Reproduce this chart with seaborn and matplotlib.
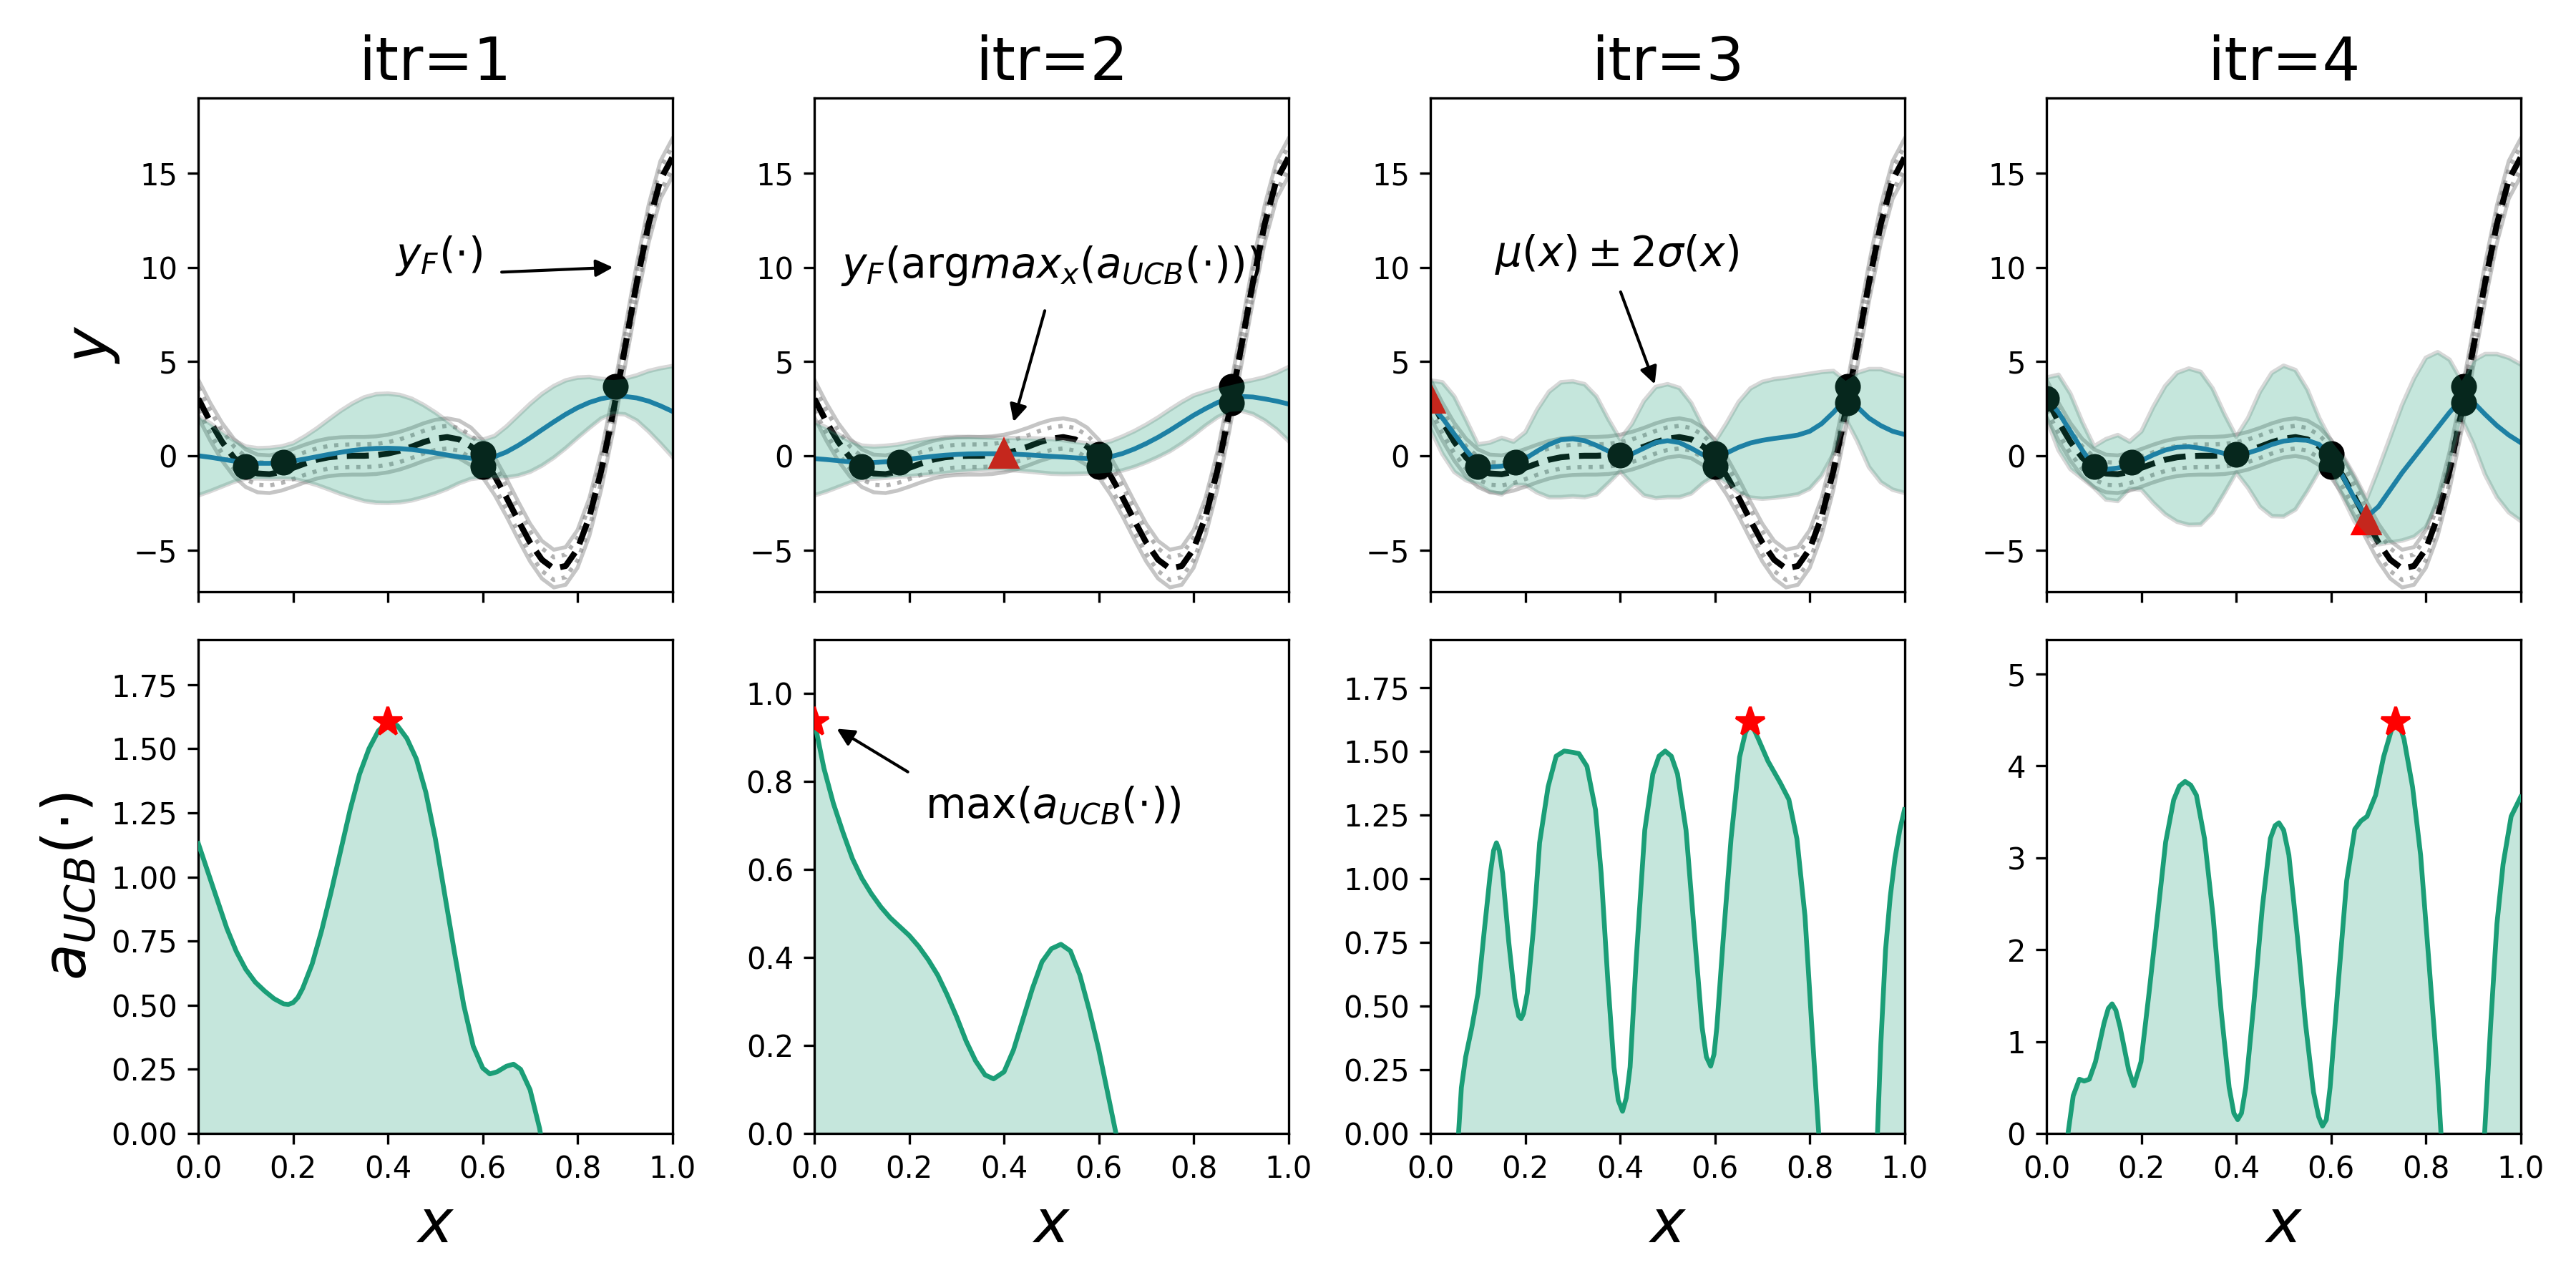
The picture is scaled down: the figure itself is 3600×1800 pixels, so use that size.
import matplotlib
matplotlib.use("Agg")
import matplotlib.pyplot as plt
import seaborn as sns
import numpy as np

# -------------------------
# Data
# -------------------------
x_grid = [0.0, 0.025, 0.05, 0.075, 0.1, 0.125, 0.15, 0.175, 0.2, 0.225,
          0.25, 0.275, 0.3, 0.325, 0.35, 0.375, 0.4, 0.425, 0.45, 0.475,
          0.5, 0.525, 0.55, 0.575, 0.6, 0.625, 0.65, 0.675, 0.7, 0.725,
          0.75, 0.775, 0.8, 0.825, 0.85, 0.875, 0.9, 0.925, 0.95, 0.975, 1.0]

# true function y_F (black dashed)
y_true = [3.03, 1.81, 0.74, -0.10, -0.66, -0.94, -0.98, -0.85, -0.64, -0.41,
          -0.21, -0.08, -0.02, 0.00, 0.00, 0.03, 0.12, 0.27, 0.48, 0.72,
          0.91, 0.99, 0.87, 0.50, -0.15, -1.07, -2.21, -3.44, -4.61, -5.52,
          -5.99, -5.85, -4.95, -3.25, -0.80, 2.27, 5.71, 9.19, 12.30, 14.65, 15.83]
noise_outer = 1.0   # grey solid band around y_F
noise_inner = 0.6   # grey dotted band around y_F

# GP mean and 2*sigma per iteration
mean_itr1 = [0.0, -0.08, -0.18, -0.28, -0.36, -0.40, -0.40, -0.36, -0.28, -0.17,
             -0.05, 0.07, 0.18, 0.28, 0.35, 0.39, 0.40, 0.38, 0.33, 0.25,
             0.15, 0.04, -0.06, -0.13, -0.15, -0.05, 0.2, 0.55, 0.95, 1.38,
             1.8, 2.2, 2.55, 2.83, 3.03, 3.14, 3.15, 3.07, 2.9, 2.65, 2.36]
sd2_itr1 = [2.1, 1.8, 1.45, 1.1, 0.85, 0.8, 0.82, 0.85, 0.95, 1.2,
            1.5, 1.85, 2.2, 2.5, 2.75, 2.88, 2.9, 2.85, 2.7, 2.45,
            2.15, 1.8, 1.4, 1.1, 1.0, 1.1, 1.35, 1.6, 1.8, 1.9,
            1.9, 1.8, 1.6, 1.35, 1.05, 0.9, 0.95, 1.2, 1.6, 2.0, 2.4]

mean_itr2 = [-0.15, -0.2, -0.26, -0.32, -0.36, -0.36, -0.32, -0.26, -0.18, -0.1,
             -0.03, 0.03, 0.07, 0.1, 0.11, 0.11, 0.1, 0.08, 0.05, 0.01,
             -0.03, -0.07, -0.11, -0.14, -0.14, -0.05, 0.12, 0.36, 0.65, 0.98,
             1.35, 1.75, 2.15, 2.5, 2.82, 3.05, 3.15, 3.12, 3.02, 2.9, 2.75]
sd2_itr2 = [1.95, 1.7, 1.4, 1.1, 0.9, 0.85, 0.85, 0.85, 0.9, 0.93,
            0.95, 0.95, 0.93, 0.9, 0.87, 0.85, 0.85, 0.86, 0.88, 0.9,
            0.92, 0.9, 0.85, 0.8, 0.78, 0.82, 0.9, 0.95, 1.0, 1.05,
            1.1, 1.1, 1.05, 0.9, 0.78, 0.7, 0.75, 0.9, 1.15, 1.5, 1.95]

mean_itr3 = [2.7, 2.0, 1.15, 0.3, -0.45, -0.6, -0.55, -0.4, -0.15, 0.25,
             0.6, 0.85, 0.9, 0.8, 0.55, 0.25, 0.03, 0.1, 0.4, 0.7,
             0.8, 0.7, 0.4, 0.05, -0.15, 0.15, 0.45, 0.68, 0.82, 0.92,
             1.0, 1.1, 1.3, 1.7, 2.3, 3.0, 2.6, 2.0, 1.6, 1.3, 1.13]
sd2_itr3 = [1.3, 1.9, 2.0, 1.6, 1.05, 1.3, 1.5, 1.15, 1.4, 2.2,
            2.8, 3.05, 3.05, 3.0, 2.6, 1.7, 0.85, 1.6, 2.5, 2.95,
            3.0, 2.9, 2.4, 1.5, 0.9, 1.6, 2.4, 2.9, 3.1, 3.15,
            3.15, 3.15, 3.05, 2.75, 2.2, 1.0, 1.8, 2.6, 3.0, 3.1, 3.1]

mean_itr4 = [3.05, 2.3, 1.3, 0.3, -0.6, -0.72, -0.65, -0.5, -0.25, 0.05,
             0.3, 0.45, 0.48, 0.4, 0.28, 0.12, 0.06, 0.15, 0.35, 0.6,
             0.78, 0.85, 0.82, 0.6, -0.05, -1.1, -2.3, -3.25, -2.7, -1.8,
             -0.9, -0.1, 0.7, 1.5, 2.3, 3.0, 2.85, 2.2, 1.6, 1.1, 0.7]
sd2_itr4 = [1.1, 2.0, 2.0, 1.5, 1.1, 1.6, 1.75, 1.25, 1.55, 2.55,
            3.4, 3.95, 4.15, 4.05, 3.3, 2.1, 0.95, 1.85, 3.05, 3.8,
            4.0, 3.7, 2.7, 1.4, 0.85, 1.1, 1.2, 0.95, 2.0, 2.8,
            3.6, 4.2, 4.5, 4.0, 2.8, 1.0, 2.2, 3.2, 3.8, 4.1, 4.15]

# observations (black dots)
obs_x_itr1 = [0.1, 0.18, 0.6, 0.6, 0.88]
obs_y_itr1 = [-0.57, -0.36, 0.1, -0.57, 3.7]
obs_x_itr2 = [0.1, 0.18, 0.6, 0.6, 0.88, 0.88]
obs_y_itr2 = [-0.57, -0.36, 0.06, -0.57, 3.7, 2.8]
obs_x_itr3 = [0.1, 0.18, 0.4, 0.6, 0.6, 0.88, 0.88]
obs_y_itr3 = [-0.57, -0.36, 0.03, 0.13, -0.57, 3.7, 2.8]
obs_x_itr4 = [0.0, 0.1, 0.18, 0.4, 0.6, 0.6, 0.88, 0.88]
obs_y_itr4 = [3.05, -0.57, -0.36, 0.06, 0.13, -0.57, 3.7, 2.8]

# newly queried point (red triangle), none in the first iteration
new_x = [None, 0.40, 0.0, 0.675]
new_y = [None, 0.12, 3.03, -3.44]

# acquisition a_UCB
acq_x_itr1 = [0.0, 0.02, 0.04, 0.06, 0.08, 0.1, 0.12, 0.14, 0.16, 0.18,
              0.19, 0.2, 0.21, 0.22, 0.24, 0.26, 0.28, 0.3, 0.32, 0.34, 0.36,
              0.38, 0.4, 0.42, 0.44, 0.46, 0.48, 0.5, 0.52, 0.54, 0.56,
              0.58, 0.6, 0.615, 0.63, 0.65, 0.665, 0.68, 0.7, 0.72, 0.74]
acq_y_itr1 = [1.13, 1.02, 0.91, 0.80, 0.71, 0.64, 0.59, 0.555, 0.525, 0.505,
              0.503, 0.51, 0.53, 0.565, 0.66, 0.79, 0.94, 1.1, 1.26, 1.4, 1.5,
              1.57, 1.605, 1.59, 1.54, 1.46, 1.33, 1.15, 0.93, 0.71, 0.5,
              0.34, 0.255, 0.232, 0.24, 0.262, 0.27, 0.25, 0.17, 0.02, -0.2]

acq_x_itr2 = [0.0, 0.02, 0.04, 0.06, 0.08, 0.1, 0.12, 0.14, 0.16, 0.18,
              0.2, 0.22, 0.24, 0.26, 0.28, 0.3, 0.32, 0.34, 0.36, 0.378,
              0.4, 0.42, 0.44, 0.46, 0.48, 0.5, 0.52, 0.54, 0.56, 0.58,
              0.6, 0.62, 0.64, 0.66]
acq_y_itr2 = [0.936, 0.83, 0.75, 0.685, 0.625, 0.58, 0.545, 0.515, 0.49, 0.47,
              0.45, 0.425, 0.395, 0.36, 0.315, 0.265, 0.21, 0.165, 0.133, 0.124,
              0.14, 0.19, 0.26, 0.33, 0.39, 0.42, 0.43, 0.415, 0.36, 0.28,
              0.19, 0.085, -0.02, -0.13]

acq_x_itr3 = [0.0, 0.04, 0.059, 0.065, 0.074, 0.087, 0.1, 0.113, 0.126, 0.133, 0.139,
              0.145, 0.152, 0.165, 0.178, 0.186, 0.191, 0.196, 0.204, 0.217, 0.23, 0.248,
              0.265, 0.282, 0.3, 0.313, 0.33, 0.348, 0.36, 0.374, 0.387, 0.396, 0.405,
              0.413, 0.421, 0.434, 0.452, 0.469, 0.482, 0.495, 0.508, 0.521, 0.539,
              0.556, 0.573, 0.582, 0.591, 0.598, 0.604, 0.617, 0.634, 0.652, 0.664,
              0.675, 0.691, 0.712, 0.738, 0.756, 0.773, 0.79, 0.804, 0.819, 0.84,
              0.88, 0.92, 0.943, 0.95, 0.96, 0.97, 0.98, 0.99, 1.0]
acq_y_itr3 = [-0.45, -0.15, 0.0, 0.18, 0.3, 0.415, 0.55, 0.79, 1.02, 1.11, 1.14,
              1.11, 1.02, 0.75, 0.53, 0.46, 0.45, 0.47, 0.55, 0.8, 1.14, 1.36,
              1.48, 1.5, 1.495, 1.49, 1.44, 1.27, 1.02, 0.6, 0.26, 0.13, 0.087,
              0.14, 0.26, 0.685, 1.19, 1.41, 1.48, 1.5, 1.48, 1.41, 1.19,
              0.8, 0.416, 0.3, 0.264, 0.31, 0.416, 0.75, 1.156, 1.476, 1.57,
              1.615, 1.55, 1.46, 1.375, 1.31, 1.156, 0.853, 0.432, 0.0, -0.35,
              -0.6, -0.35, 0.0, 0.35, 0.72, 0.93, 1.08, 1.19, 1.27]

acq_x_itr4 = [0.0, 0.03, 0.045, 0.056, 0.069, 0.079, 0.09, 0.103, 0.121, 0.13, 0.138,
              0.146, 0.155, 0.173, 0.184, 0.199, 0.216, 0.234, 0.251, 0.268, 0.28, 0.292,
              0.304, 0.316, 0.333, 0.351, 0.368, 0.385, 0.395, 0.403, 0.411, 0.42,
              0.4375, 0.455, 0.472, 0.482, 0.49, 0.5, 0.511, 0.529, 0.546, 0.563,
              0.574, 0.582, 0.59, 0.598, 0.615, 0.633, 0.65, 0.663, 0.676, 0.694,
              0.711, 0.728, 0.737, 0.746, 0.754, 0.772, 0.789, 0.806, 0.824, 0.832, 0.86,
              0.9, 0.924, 0.937, 0.95, 0.963, 0.98, 1.0]
acq_y_itr4 = [-0.6, -0.2, 0.0, 0.41, 0.59, 0.57, 0.59, 0.78, 1.2, 1.36, 1.41,
              1.34, 1.155, 0.69, 0.52, 0.78, 1.53, 2.37, 3.17, 3.63, 3.78, 3.83,
              3.79, 3.68, 3.21, 2.37, 1.34, 0.5, 0.22, 0.15, 0.22, 0.5,
              1.44, 2.46, 3.21, 3.35, 3.38, 3.3, 3.03, 2.14, 1.2, 0.45,
              0.18, 0.08, 0.15, 0.5, 1.62, 2.75, 3.31, 3.4, 3.45, 3.68,
              4.1, 4.4, 4.48, 4.42, 4.29, 3.77, 3.03, 1.9, 0.69, 0.0, -0.8,
              -0.8, 0.0, 1.2, 2.28, 2.93, 3.45, 3.66]

titles = ["itr=1", "itr=2", "itr=3", "itr=4"]

means = [mean_itr1, mean_itr2, mean_itr3, mean_itr4]
sd2s = [sd2_itr1, sd2_itr2, sd2_itr3, sd2_itr4]
obs_x = [obs_x_itr1, obs_x_itr2, obs_x_itr3, obs_x_itr4]
obs_y = [obs_y_itr1, obs_y_itr2, obs_y_itr3, obs_y_itr4]
acq_x = [acq_x_itr1, acq_x_itr2, acq_x_itr3, acq_x_itr4]
acq_y = [acq_y_itr1, acq_y_itr2, acq_y_itr3, acq_y_itr4]

green = sns.color_palette("Dark2")[0]
blue = sns.color_palette("tab10")[0]

fig, axes = plt.subplots(2, 4, figsize=(12, 6), dpi=300, sharex="col")
plt.subplots_adjust(left=0.077, right=0.9785, top=0.924, bottom=0.12,
                    wspace=0.30, hspace=0.096)

yt = np.array(y_true)
arrow = dict(arrowstyle="-|>", color="black", lw=1, mutation_scale=12,
             shrinkA=0, shrinkB=0)

# -------------------------
# Top row: GP fit
# -------------------------
for i in range(4):
    ax = axes[0, i]
    for off in (noise_outer, -noise_outer):
        sns.lineplot(x=x_grid, y=yt + off, ax=ax, color="grey", alpha=0.45, lw=1.3)
    for off in (noise_inner, -noise_inner):
        sns.lineplot(x=x_grid, y=yt + off, ax=ax, color="grey", alpha=0.6, lw=1.4,
                     linestyle=":")
    sns.lineplot(x=x_grid, y=yt, ax=ax, color="black", lw=2, linestyle="--")

    mu = np.array(means[i])
    s2 = np.array(sd2s[i])
    sns.lineplot(x=x_grid, y=mu, ax=ax, color=blue, lw=1.6)
    sns.lineplot(x=x_grid, y=mu + s2, ax=ax, color="grey", alpha=0.3, lw=1.5)
    sns.lineplot(x=x_grid, y=mu - s2, ax=ax, color="grey", alpha=0.3, lw=1.5)
    sns.scatterplot(x=obs_x[i], y=obs_y[i], ax=ax, color="black", s=75,
                    linewidth=0, zorder=2)
    if new_x[i] is not None:
        ax.plot(new_x[i], new_y[i], "^", color="red", ms=9, zorder=2)
    ax.fill_between(x_grid, mu - s2, mu + s2, color=green, alpha=0.25, lw=0,
                    zorder=2.5)

    ax.set_xlim(0, 1)
    ax.set_ylim(-7.23, 19.0)
    ax.set_title(titles[i], fontsize=20)
axes[0, 0].set_ylabel("$y$", fontsize=20)

axes[0, 0].text(0.415, 10.6, r"$y_F(\cdot)$", fontsize=14, va="center")
axes[0, 0].annotate("", xy=(0.875, 10.0), xytext=(0.64, 9.75), arrowprops=arrow)
axes[0, 1].text(0.056, 10.1, r"$y_F(\mathrm{arg}max_x(a_{UCB}(\cdot)))$",
                fontsize=14, va="center")
axes[0, 1].annotate("", xy=(0.42, 1.8), xytext=(0.486, 7.7), arrowprops=arrow)
axes[0, 2].text(0.135, 10.7, r"$\mu(x) \pm 2\sigma(x)$", fontsize=14, va="center")
axes[0, 2].annotate("", xy=(0.473, 3.8), xytext=(0.401, 8.7), arrowprops=arrow)

# -------------------------
# Bottom row: acquisition
# -------------------------
for i in range(4):
    ax = axes[1, i]
    ax_x = np.array(acq_x[i])
    ay = np.array(acq_y[i])
    ax.fill_between(ax_x, 0, ay, color=green, alpha=0.25, lw=0, zorder=2)
    sns.lineplot(x=ax_x, y=ay, ax=ax, color=green, lw=1.6, zorder=3)
    k = np.argmax(ay)
    ax.plot(ax_x[k], ay[k], "*", color="red", ms=10, zorder=4)
    ax.set_xlim(0, 1)
    ax.set_ylim(0, 1.2 * ay[k])
    ax.set_xlabel("$x$", fontsize=20)
axes[1, 0].set_ylabel(r"$a_{UCB}(\cdot)$", fontsize=20)

axes[1, 1].text(0.234, 0.745, r"max($a_{UCB}(\cdot)$)", fontsize=14, va="center")
axes[1, 1].annotate("", xy=(0.047, 0.92), xytext=(0.197, 0.822), arrowprops=arrow)

plt.savefig("out.png", dpi=300)
